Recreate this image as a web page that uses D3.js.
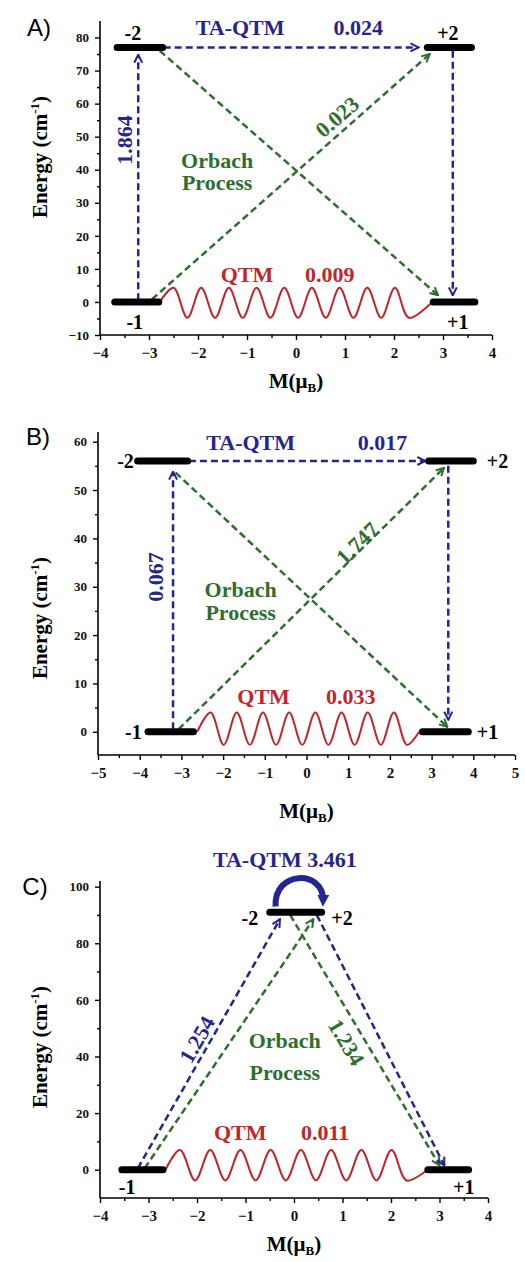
<!DOCTYPE html>
<html>
<head>
<meta charset="utf-8">
<script src="https://cdn.jsdelivr.net/npm/d3@7"></script>
<style>
  body { margin: 0; background: #fff; }
  svg text { font-family: "Liberation Serif", "Times New Roman", serif; font-weight: bold; }
</style>
</head>
<body>
<div id="chart"></div>
<script>
const width = 525, height = 1262;
const colors = { ta: '#25258f', orbach: '#2e6e2e', qtm: '#c0262c', level: '#000' };

// Panel A
const xTicksA = [-4, -3, -2, -1, 0, 1, 2, 3, 4];
const yTicksA = [-10, 0, 10, 20, 30, 40, 50, 60, 70, 80];
const levelsA = [
    { m0: -3.65, m1: -2.72, e: 77 }, { m0: 2.68, m1: 3.58, e: 77 },
    { m0: -3.7, m1: -2.8, e: 0 }, { m0: 2.8, m1: 3.65, e: 0 }
];
const statesA = [
    { text: '-2', m: -3.33, e: 81.5 }, { text: '+2', m: 3.1, e: 81.5 },
    { text: '-1', m: -3.29, e: -6 }, { text: '+1', m: 3.3, e: -6 }
];
const taA = [
    { from: [-3.22, 0.5], to: [-3.22, 74.8] },
    { from: [-2.7, 77], to: [2.5, 77] },
    { from: [3.2, 76], to: [3.2, 2] }
];
const orbachA = [
    { from: [-2.94, 0.8], to: [2.73, 75] },
    { from: [-2.78, 76], to: [2.9, 2] }
];
const waveA = { start: -2.78, end: 2.78, firstCrest: -2.5, spacing: 0.565, crests: 9, top: 4.3, bottom: -4.8 };
const ratesA = [
    { text: 'TA-QTM', m: -1.14, e: 83, kind: 'ta' },
    { text: '0.024', m: 1.27, e: 83, kind: 'ta' },
    { text: '1.864', m: -3.49, e: 49, kind: 'ta', rot: -90 },
    { text: '0.023', m: 0.84, e: 56, kind: 'orbach', along: ['orbach', 0] },
    { text: 'Orbach', m: -1.61, e: 42.9, kind: 'orbach' },
    { text: 'Process', m: -1.61, e: 36, kind: 'orbach' },
    { text: 'QTM', m: -1.0, e: 8.2, kind: 'qtm' },
    { text: '0.009', m: 0.69, e: 8.2, kind: 'qtm' }
];

// Panel B
const xTicksB = [-5, -4, -3, -2, -1, 0, 1, 2, 3, 4, 5];
const yTicksB = [0, 10, 20, 30, 40, 50, 60];
const levelsB = [
    { m0: -4.05, m1: -2.85, e: 56 }, { m0: 2.93, m1: 4.0, e: 56 },
    { m0: -3.8, m1: -2.71, e: 0 }, { m0: 2.78, m1: 3.88, e: 0 }
];
const statesB = [
    { text: '-2', m: -4.34, e: 56 }, { text: '+2', m: 4.58, e: 56 },
    { text: '-1', m: -4.15, e: 0 }, { text: '+1', m: 4.34, e: 0 }
];
const taB = [
    { from: [-3.2, 0.5], to: [-3.2, 53.8] },
    { from: [-2.82, 56], to: [2.85, 56] },
    { from: [3.4, 55], to: [3.4, 2.5] }
];
const orbachB = [
    { from: [-3.07, 0.5], to: [3.3, 54.6] },
    { from: [-3.14, 53.6], to: [3.38, 1] }
];
const waveB = { start: -2.62, end: 2.7, firstCrest: -2.3, spacing: 0.628, crests: 8, top: 4, bottom: -2.7 };
const ratesB = [
    { text: 'TA-QTM', m: -1.34, e: 59.8, kind: 'ta' },
    { text: '0.017', m: 1.82, e: 59.8, kind: 'ta' },
    { text: '0.067', m: -3.62, e: 32, kind: 'ta', rot: -90 },
    { text: '1.747', m: 1.22, e: 39, kind: 'orbach', along: ['orbach', 0] },
    { text: 'Orbach', m: -1.58, e: 29.4, kind: 'orbach' },
    { text: 'Process', m: -1.58, e: 24.6, kind: 'orbach' },
    { text: 'QTM', m: -1.03, e: 7.2, kind: 'qtm' },
    { text: '0.033', m: 1.06, e: 7.2, kind: 'qtm' }
];

// Panel C
const xTicksC = [-4, -3, -2, -1, 0, 1, 2, 3, 4];
const yTicksC = [0, 20, 40, 60, 80, 100];
const levelsC = [
    { m0: -0.5, m1: 0.57, e: 91 },
    { m0: -3.55, m1: -2.7, e: 0 }, { m0: 2.76, m1: 3.6, e: 0 }
];
const statesC = [
    { text: '-2', m: -0.91, e: 89 }, { text: '+2', m: 0.99, e: 89 },
    { text: '-1', m: -3.44, e: -6 }, { text: '+1', m: 3.5, e: -6 }
];
const taC = [
    { from: [-3.22, 0.5], to: [-0.29, 88.5] },
    { from: [0.47, 90], to: [3.1, 1.5] }
];
const orbachC = [
    { from: [-3.08, 0.5], to: [0.4, 88.5] },
    { from: [-0.08, 90], to: [3.0, 1.5] }
];
const loopC = { from: [-0.38, 93], c1: [-0.42, 106], c2: [0.62, 106], to: [0.6, 95] };
const waveC = { start: -2.65, end: 2.75, firstCrest: -2.35, spacing: 0.623, crests: 8, top: 7, bottom: -3.8 };
const ratesC = [
    { text: 'TA-QTM 3.461', m: -0.19, e: 109.5, kind: 'ta' },
    { text: '1.254', m: -2.0, e: 46, kind: 'ta', along: ['ta', 0] },
    { text: '1.234', m: 1.08, e: 45, kind: 'orbach', along: ['orbach', 1] },
    { text: 'Orbach', m: -0.19, e: 45.6, kind: 'orbach' },
    { text: 'Process', m: -0.19, e: 34.3, kind: 'orbach' },
    { text: 'QTM', m: -1.11, e: 13, kind: 'qtm' },
    { text: '0.011', m: 0.64, e: 13, kind: 'qtm' }
];

const panels = [
    { letter: 'A)', xDomain: [-4, 4], yDomain: [-10, 85], xRange: [100, 492], yRange: [335, 21],
      xTicks: xTicksA, yTicks: yTicksA, levels: levelsA, states: statesA, ta: taA, orbach: orbachA,
      wave: waveA, rates: ratesA, titleGap: 53, energyY: 157, letterXY: [39, 36] },
    { letter: 'B)', xDomain: [-5, 5], yDomain: [-4.8, 62], xRange: [98, 515], yRange: [755, 432],
      xTicks: xTicksB, yTicks: yTicksB, levels: levelsB, states: statesB, ta: taB, orbach: orbachB,
      wave: waveB, rates: ratesB, titleGap: 63, energyY: 618, letterXY: [38, 445] },
    { letter: 'C)', xDomain: [-4, 4], yDomain: [-10, 102], xRange: [100, 488], yRange: [1198, 881],
      xTicks: xTicksC, yTicks: yTicksC, levels: levelsC, states: statesC, ta: taC, orbach: orbachC,
      wave: waveC, rates: ratesC, loop: loopC, titleGap: 53, energyY: 1047, letterXY: [35, 895] }
];

const svg = d3.select('#chart')
    .append('svg')
    .attr('width', width)
    .attr('height', height);

svg.append('rect').attr('width', width).attr('height', height).attr('fill', '#fff');

// arrow markers
const defs = svg.append('defs');
['ta', 'orbach'].forEach(k => {
    defs.append('marker')
        .attr('id', 'arrow-' + k)
        .attr('viewBox', '0 0 10 10')
        .attr('refX', 9).attr('refY', 5)
        .attr('markerWidth', 10).attr('markerHeight', 10)
        .attr('markerUnits', 'userSpaceOnUse')
        .attr('orient', 'auto')
        .append('path')
        .attr('d', 'M1,1 L9,5 L1,9')
        .attr('fill', 'none')
        .attr('stroke', colors[k])
        .attr('stroke-width', 2);
});
defs.append('marker')
    .attr('id', 'arrow-loop')
    .attr('viewBox', '0 0 10 10')
    .attr('refX', 5).attr('refY', 5)
    .attr('markerWidth', 12).attr('markerHeight', 12)
    .attr('markerUnits', 'userSpaceOnUse')
    .attr('orient', 'auto')
    .append('path')
    .attr('d', 'M0,0 L10,5 L0,10 Z')
    .attr('fill', colors.ta);

function wavePoints(w) {
    let pts = [[w.start, 0]];
    for (let i = 0; i < w.crests; i++) {
        let c = w.firstCrest + i * w.spacing;
        pts.push([c, w.top]);
        pts.push([c + w.spacing / 2, w.bottom]);
    }
    pts.push([w.end, 0]);
    return pts;
}

function drawPanel(p) {
    let x = d3.scaleLinear().domain(p.xDomain).range(p.xRange);
    let y = d3.scaleLinear().domain(p.yDomain).range(p.yRange);
    let g = svg.append('g');

    let minor = ticks => ticks.slice(1).map((t, i) => (t + ticks[i]) / 2);

    // axes
    let xAxis = g.append('g')
        .attr('transform', `translate(0,${p.yRange[0]})`)
        .call(d3.axisBottom(x).tickValues(p.xTicks).tickSize(5).tickPadding(7).tickFormat(d3.format('d')));
    g.append('g')
        .attr('transform', `translate(0,${p.yRange[0]})`)
        .call(d3.axisBottom(x).tickValues(minor(p.xTicks)).tickSize(3).tickFormat(''))
        .select('.domain').remove();
    let yAxis = g.append('g')
        .attr('transform', `translate(${p.xRange[0]},0)`)
        .call(d3.axisLeft(y).tickValues(p.yTicks).tickSize(5).tickPadding(6).tickFormat(d3.format('d')));
    g.append('g')
        .attr('transform', `translate(${p.xRange[0]},0)`)
        .call(d3.axisLeft(y).tickValues(minor(p.yTicks)).tickSize(3).tickFormat(''))
        .select('.domain').remove();
    g.selectAll('.domain').attr('stroke-width', 1.6);
    xAxis.select('.domain').attr('d', `M${p.xRange[0]},0H${p.xRange[1]}`);
    yAxis.select('.domain').attr('d', `M0,${p.yRange[0]}V${p.yRange[1]}`);
    g.selectAll('.tick line').attr('stroke-width', 1.4);
    xAxis.selectAll('text').style('font-size', '15px').attr('fill', '#111');
    yAxis.selectAll('text').style('font-size', '13px').attr('fill', '#111');

    // axis titles
    let xt = g.append('text')
        .attr('x', (p.xRange[0] + p.xRange[1]) / 2)
        .attr('y', p.yRange[0] + p.titleGap)
        .attr('text-anchor', 'middle')
        .style('font-size', '21px');
    xt.append('tspan').text('M(\u03bc');
    xt.append('tspan').attr('dy', 4).style('font-size', '13px').text('B');
    xt.append('tspan').attr('dy', -4).text(')');

    let yt = g.append('text')
        .attr('transform', `translate(47,${p.energyY}) rotate(-90)`)
        .attr('text-anchor', 'middle')
        .style('font-size', '21px');
    yt.append('tspan').text('Energy (cm');
    yt.append('tspan').attr('dy', -8).style('font-size', '13px').text('-1');
    yt.append('tspan').attr('dy', 8).text(')');

    g.append('text')
        .attr('x', p.letterXY[0]).attr('y', p.letterXY[1])
        .attr('text-anchor', 'middle')
        .style('font-family', '"Liberation Sans", Arial, sans-serif')
        .style('font-weight', 'normal')
        .style('font-size', '24px')
        .text(p.letter);

    // QTM wave
    g.append('path')
        .datum(wavePoints(p.wave))
        .attr('fill', 'none')
        .attr('stroke', colors.qtm)
        .attr('stroke-width', 2)
        .attr('d', d3.line().x(d => x(d[0])).y(d => y(d[1])).curve(d3.curveCatmullRom.alpha(0.5)));

    // transitions
    ['orbach', 'ta'].forEach(k => {
        g.selectAll('line.' + k)
            .data(p[k]).enter()
            .append('line')
            .attr('class', k)
            .attr('x1', d => x(d.from[0])).attr('y1', d => y(d.from[1]))
            .attr('x2', d => x(d.to[0])).attr('y2', d => y(d.to[1]))
            .attr('stroke', colors[k])
            .attr('stroke-width', 2.5)
            .attr('stroke-dasharray', '7,4')
            .attr('marker-end', `url(#arrow-${k})`);
    });

    if (p.loop) {
        let l = p.loop;
        g.append('path')
            .attr('d', `M${x(l.from[0])},${y(l.from[1])} C${x(l.c1[0])},${y(l.c1[1])} ${x(l.c2[0])},${y(l.c2[1])} ${x(l.to[0])},${y(l.to[1])}`)
            .attr('fill', 'none')
            .attr('stroke', colors.ta)
            .attr('stroke-width', 6)
            .attr('marker-end', 'url(#arrow-loop)');
    }

    // energy levels
    g.selectAll('line.level')
        .data(p.levels).enter()
        .append('line')
        .attr('class', 'level')
        .attr('x1', d => x(d.m0)).attr('x2', d => x(d.m1))
        .attr('y1', d => y(d.e)).attr('y2', d => y(d.e))
        .attr('stroke', colors.level)
        .attr('stroke-width', 7)
        .attr('stroke-linecap', 'round');

    g.selectAll('text.state')
        .data(p.states).enter()
        .append('text')
        .attr('class', 'state')
        .attr('x', d => x(d.m)).attr('y', d => y(d.e))
        .attr('text-anchor', 'middle')
        .attr('dominant-baseline', 'central')
        .style('font-size', '20px')
        .text(d => d.text);

    let angle = d => {
        if (d.rot !== undefined) return d.rot;
        if (!d.along) return 0;
        let a = p[d.along[0]][d.along[1]];
        return Math.atan2(y(a.to[1]) - y(a.from[1]), x(a.to[0]) - x(a.from[0])) * 180 / Math.PI;
    };

    g.selectAll('text.rate')
        .data(p.rates).enter()
        .append('text')
        .attr('class', 'rate')
        .attr('transform', d => `translate(${x(d.m)},${y(d.e)}) rotate(${angle(d)})`)
        .attr('text-anchor', 'middle')
        .attr('dominant-baseline', 'central')
        .attr('fill', d => colors[d.kind])
        .style('font-size', '22px')
        .text(d => d.text);
}

panels.forEach(drawPanel);
</script>
</body>
</html>
